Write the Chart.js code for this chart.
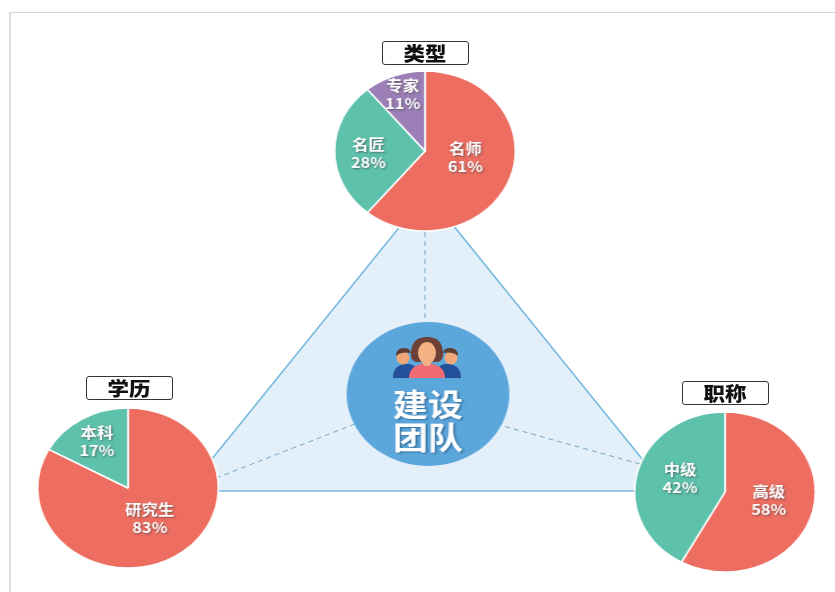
<!DOCTYPE html>
<html>
<head>
<meta charset="utf-8">
<script src="https://cdn.jsdelivr.net/npm/chart.js@4"></script>
<style>
  html, body { margin: 0; padding: 0; background: #fff; }
  #page { position: relative; width: 835px; height: 592px; overflow: hidden; font-family: "Noto Sans CJK SC", sans-serif; }
  #frame { position: absolute; left: 9px; top: 12px; right: 0; bottom: 0; border-left: 2px solid #dcdcdc; border-top: 1px solid #d6d6d6; }
  #bg { position: absolute; left: 0; top: 0; }
  .pie { position: absolute; width: 170px; height: 170px; transform: scaleX(1.13); }
  .title { position: absolute; width: 85px; height: 22px; line-height: 21px; border: 1px solid #333; border-radius: 3px; background: #fff;
    text-align: center; font-size: 19px; font-weight: 900; color: #111; }
  .title span { display: inline-block; transform: scaleX(1.13); }
  #people { position: absolute; left: 392px; top: 336px; }
</style>
</head>
<body>
<div id="page">
  <div id="frame"></div>
  <canvas id="bg" width="835" height="592"></canvas>

  <div class="pie" style="left:340px;top:66px"><canvas id="pieType" width="170" height="170"></canvas></div>
  <div class="pie" style="left:43px;top:403px"><canvas id="pieEdu" width="170" height="170"></canvas></div>
  <div class="pie" style="left:640px;top:407px"><canvas id="pieRank" width="170" height="170"></canvas></div>
  <div class="pie" style="left:343px;top:309px"><canvas id="pieCenter" width="170" height="170"></canvas></div>

  <div class="title" style="left:382px;top:41px"><span>类型</span></div>
  <div class="title" style="left:86px;top:376px"><span>学历</span></div>
  <div class="title" style="left:682px;top:381px"><span>职称</span></div>

  <svg id="people" width="70" height="46" viewBox="0 0 70 46">
    <path d="M1 42 q0 -12 11 -14 l6 0 q8 2 10 14 z" fill="#24509a"/>
    <path d="M69 42 q0 -12 -11 -14 l-6 0 q-8 2 -10 14 z" fill="#24509a"/>
    <circle cx="11" cy="22" r="6.5" fill="#f0a878"/>
    <circle cx="59" cy="22" r="6.5" fill="#f0a878"/>
    <path d="M4 20 q0 -8 8 -8 q6 0 7 5 q-6 -1 -9 0 q-3 0 -6 3z" fill="#5f3d30"/>
    <path d="M66 20 q0 -8 -8 -8 q-6 0 -7 5 q6 -1 9 0 q3 0 6 3z" fill="#5f3d30"/>
    <path d="M24 26 q-6 -2 -5 -10 q1 -15 16 -15 q15 0 16 15 q1 8 -5 10 z" fill="#6f4035"/>
    <path d="M17 42 q0 -11 12 -14 l12 0 q12 3 12 14 z" fill="#ef6a72"/>
    <ellipse cx="35" cy="17" rx="9" ry="11" fill="#f3b184"/>
    <rect x="31" y="24" width="8" height="6" rx="3" fill="#f3b184"/>
  </svg>
</div>

<script>
// data
var typeLabels = ['名师', '名匠', '专家'];
var typeValues = [61, 28, 11];
var eduLabels = ['研究生', '本科'];
var eduValues = [83, 17];
var rankLabels = ['高级', '中级'];
var rankValues = [58, 42];

// triangle and dashed spokes, page pixels
var triangle = [{x: 186, y: 491}, {x: 427, y: 193}, {x: 668, y: 491}];
var spokeTop = [{x: 425, y: 232}, {x: 425, y: 322}];
var spokeLeft = [{x: 216, y: 478}, {x: 355, y: 424}];
var spokeRight = [{x: 640, y: 464}, {x: 503, y: 426}];

var red = '#ed6e61';
var green = '#5dc1ab';
var purple = '#9b7fb6';
var blue = '#5ba7dc';

// background, first dataset is drawn on top so the filled shape goes last
function spoke(points) {
  return {
    data: points, showLine: true, fill: false, pointRadius: 0,
    borderColor: '#74a8c9', borderWidth: 1, borderDash: [5, 4]
  };
}
new Chart(document.getElementById('bg'), {
  type: 'scatter',
  data: {
    datasets: [
      spoke(spokeTop),
      spoke(spokeLeft),
      spoke(spokeRight),
      {
        data: [triangle[2], triangle[0]], showLine: true, fill: false, pointRadius: 0,
        borderColor: '#74b8de', borderWidth: 1.5
      },
      {
        data: triangle, showLine: true, fill: 'shape', pointRadius: 0,
        backgroundColor: '#e3f0f9', borderColor: '#74b8de', borderWidth: 1.5
      }
    ]
  },
  options: {
    responsive: false,
    animation: false,
    layout: { padding: 0 },
    plugins: { legend: { display: false }, tooltip: { enabled: false } },
    scales: {
      x: { type: 'linear', min: 0, max: 835, display: false },
      y: { type: 'linear', min: 0, max: 592, reverse: true, display: false }
    }
  }
});

// slice captions, white with a soft shadow
var sliceText = {
  id: 'sliceText',
  afterDatasetsDraw: function (chart, args, opts) {
    var ctx = chart.ctx;
    var arcs = chart.getDatasetMeta(0).data;
    var values = chart.data.datasets[0].data;
    ctx.save();
    ctx.fillStyle = '#fff';
    ctx.textAlign = 'center';
    ctx.textBaseline = 'middle';
    ctx.font = '700 14.5px "Noto Sans CJK SC"';
    ctx.shadowColor = 'rgba(60,60,60,0.6)';
    ctx.shadowBlur = 2;
    ctx.shadowOffsetX = 1;
    ctx.shadowOffsetY = 1;
    arcs.forEach(function (arc, i) {
      var mid = (arc.startAngle + arc.endAngle) / 2;
      var r = opts.radius[i];
      var x = arc.x + Math.cos(mid) * r;
      var y = arc.y + Math.sin(mid) * r + opts.nudge[i];
      ctx.fillText(chart.data.labels[i], x, y - 9);
      ctx.fillText(values[i] + '%', x, y + 9);
    });
    ctx.restore();
  }
};

function makePie(id, labels, values, colors, radius, nudge) {
  new Chart(document.getElementById(id), {
    type: 'pie',
    data: {
      labels: labels,
      datasets: [{ data: values, backgroundColor: colors, borderColor: '#fff', borderWidth: 1.5 }]
    },
    options: {
      responsive: false,
      animation: false,
      radius: 80,
      layout: { padding: 5 },
      plugins: {
        legend: { display: false },
        tooltip: { enabled: false },
        sliceText: { radius: radius, nudge: nudge }
      }
    },
    plugins: [sliceText]
  });
}

makePie('pieType', typeLabels, typeValues, [red, green, purple], [38, 50, 58], [-6, 2, -2]);
makePie('pieEdu', eduLabels, eduValues, [red, green], [38, 54], [-2, 0]);
makePie('pieRank', rankLabels, rankValues, [red, green], [40, 41], [-1, -3]);

// centre disc
new Chart(document.getElementById('pieCenter'), {
  type: 'pie',
  data: { labels: ['建设团队'], datasets: [{ data: [1], backgroundColor: blue, borderWidth: 0 }] },
  options: {
    responsive: false,
    animation: false,
    radius: 72,
    plugins: { legend: { display: false }, tooltip: { enabled: false } }
  },
  plugins: [{
    id: 'centerText',
    afterDatasetsDraw: function (chart) {
      var ctx = chart.ctx;
      ctx.save();
      ctx.fillStyle = '#fff';
      ctx.textAlign = 'center';
      ctx.textBaseline = 'middle';
      ctx.font = '700 31px "Noto Sans CJK SC"';
      ctx.shadowColor = 'rgba(30,70,110,0.6)';
      ctx.shadowBlur = 2;
      ctx.shadowOffsetX = 1.5;
      ctx.shadowOffsetY = 1.5;
      ctx.fillText('建设', 85, 95);
      ctx.fillText('团队', 85, 128);
      ctx.restore();
    }
  }]
});
</script>
</body>
</html>
